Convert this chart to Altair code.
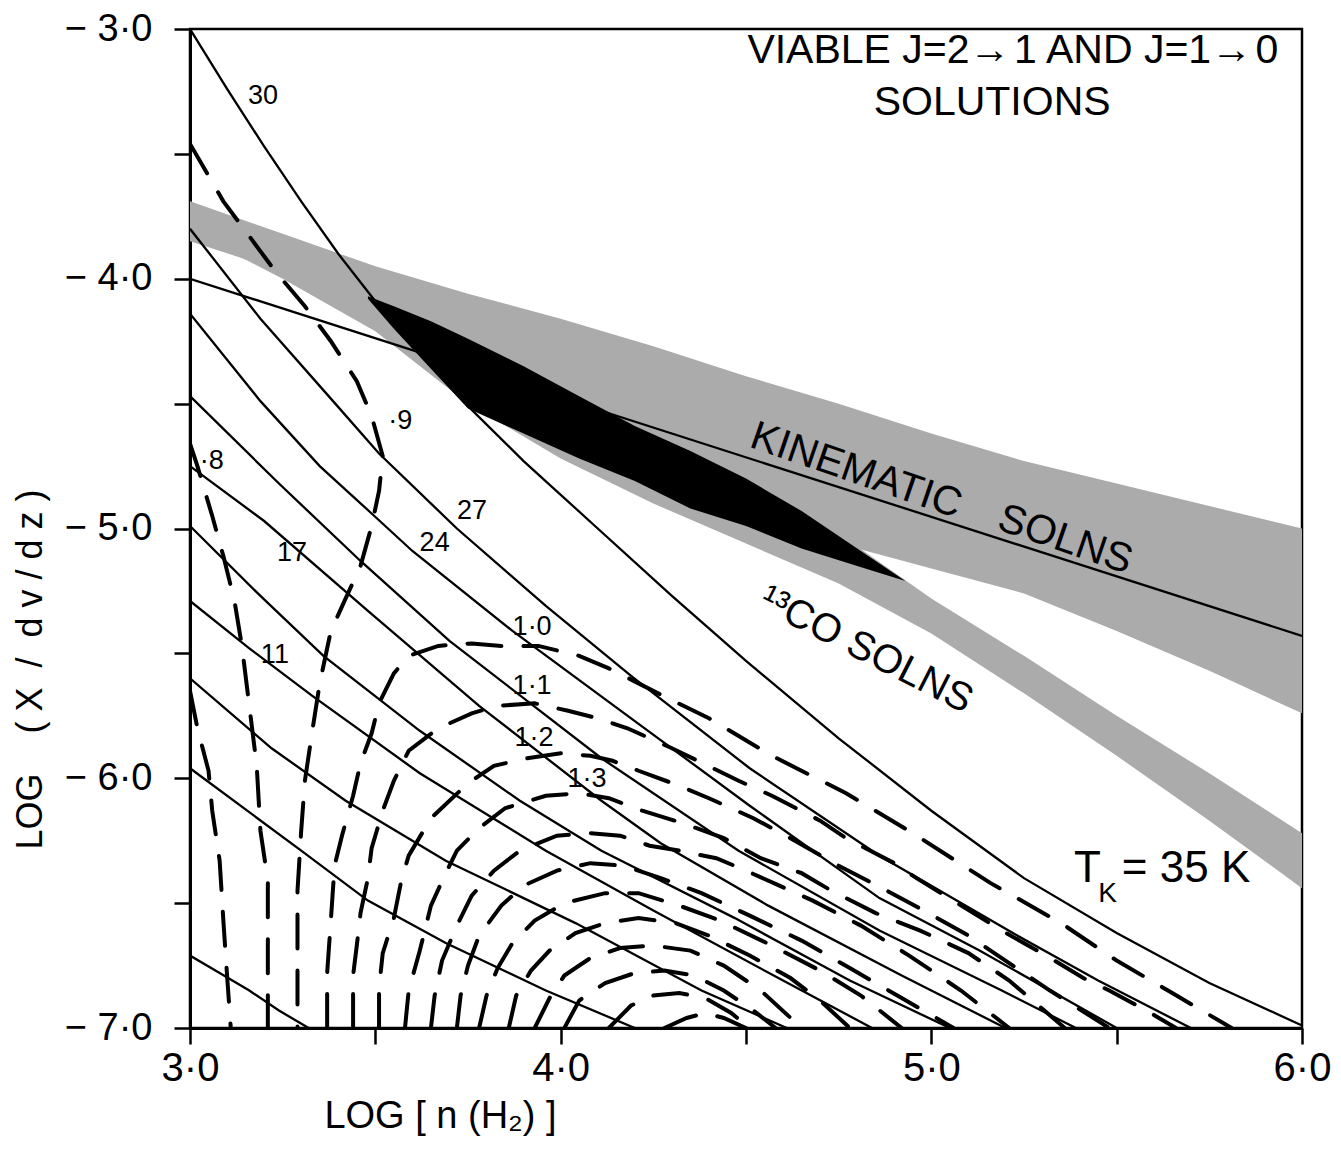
import altair as alt
import pandas as pd

# ---------------- axes ----------------
x_ticks = [3.0, 3.5, 4.0, 4.5, 5.0, 5.5, 6.0]
y_ticks = [-3.0, -3.5, -4.0, -4.5, -5.0, -5.5, -6.0, -6.5, -7.0]

# ---------------- solid contours (brightness temperature) ----------------
t30_x = [3.00, 3.10, 3.20, 3.30, 3.40, 3.50, 3.60, 3.75, 3.90, 4.10, 4.30, 4.50, 4.75, 5.00, 5.25, 5.50, 5.75, 6.00]
t30_y = [-3.00, -3.24, -3.47, -3.69, -3.90, -4.09, -4.27, -4.51, -4.73, -5.00, -5.27, -5.53, -5.84, -6.13, -6.40, -6.62, -6.82, -6.99]
t27_x = [3.00, 3.19, 3.38, 3.51, 3.72, 3.96, 4.19, 4.51, 4.86, 5.22, 5.45, 5.70]
t27_y = [-3.80, -4.16, -4.48, -4.70, -5.00, -5.31, -5.59, -5.96, -6.31, -6.62, -6.81, -7.00]
t24_x = [3.00, 3.19, 3.35, 3.49, 3.60, 3.87, 4.19, 4.51, 4.86, 5.13, 5.50]
t24_y = [-4.14, -4.49, -4.75, -4.94, -5.09, -5.41, -5.76, -6.11, -6.48, -6.69, -7.00]
t21_x = [3.00, 3.24, 3.46, 3.70, 4.11, 4.48, 4.86, 5.19, 5.39]
t21_y = [-4.47, -4.82, -5.13, -5.45, -5.92, -6.29, -6.61, -6.85, -7.00]
t17_x = [3.00, 3.20, 3.48, 3.78, 4.11, 4.27, 4.56, 4.92, 5.20]
t17_y = [-4.75, -4.97, -5.33, -5.71, -6.09, -6.26, -6.51, -6.79, -7.00]
t15_x = [3.00, 3.19, 3.36, 3.62, 3.89, 4.11, 4.47, 4.78, 5.05]
t15_y = [-4.99, -5.27, -5.51, -5.81, -6.09, -6.29, -6.56, -6.81, -7.00]
t13_x = [3.00, 3.16, 3.33, 3.62, 3.96, 4.25, 4.60, 4.84]
t13_y = [-5.29, -5.48, -5.67, -5.98, -6.29, -6.53, -6.81, -7.00]
t11_x = [3.00, 3.22, 3.42, 3.69, 4.04, 4.38, 4.61]
t11_y = [-5.60, -5.88, -6.09, -6.33, -6.58, -6.85, -7.00]
t9_x = [3.00, 3.30, 3.48, 3.69, 3.96, 4.20]
t9_y = [-5.96, -6.29, -6.49, -6.66, -6.85, -7.00]
t7_x = [3.00, 3.08, 3.16, 3.24, 3.32]
t7_y = [-6.71, -6.78, -6.85, -6.93, -7.00]

# ---------------- dashed contours (line ratio) ----------------
r07_x = [3.00, 3.02, 3.05, 3.06, 3.08, 3.09, 3.10, 3.11]
r07_y = [-5.65, -5.80, -5.97, -6.13, -6.33, -6.57, -6.79, -7.00]
r08_x = [3.00, 3.02, 3.06, 3.09, 3.12, 3.14, 3.16, 3.18, 3.19, 3.21, 3.21, 3.21]
r08_y = [-4.66, -4.75, -4.95, -5.11, -5.29, -5.47, -5.71, -5.95, -6.21, -6.41, -6.63, -7.00]
r09_x = [3.00, 3.09, 3.16, 3.23, 3.31, 3.38, 3.45, 3.49, 3.52, 3.51, 3.49, 3.46, 3.42, 3.38, 3.35, 3.33, 3.31, 3.30, 3.29, 3.29, 3.29]
r09_y = [-3.46, -3.69, -3.83, -3.97, -4.11, -4.25, -4.41, -4.55, -4.71, -4.85, -4.99, -5.15, -5.28, -5.41, -5.62, -5.81, -6.01, -6.21, -6.45, -6.69, -7.00]
r10_x = [3.37, 3.37, 3.38, 3.39, 3.41, 3.44, 3.46, 3.49, 3.51, 3.55, 3.59, 3.67, 3.76, 3.84, 3.94, 4.05, 4.13, 4.21, 4.29, 4.40, 4.57, 4.77, 4.95, 5.16, 5.35, 5.50, 5.65, 5.81]
r10_y = [-7.00, -6.78, -6.57, -6.35, -6.23, -6.07, -5.94, -5.82, -5.70, -5.58, -5.51, -5.47, -5.46, -5.47, -5.47, -5.51, -5.56, -5.62, -5.68, -5.76, -5.91, -6.06, -6.22, -6.42, -6.58, -6.73, -6.86, -7.00]
r11_x = [3.44, 3.44, 3.45, 3.46, 3.48, 3.49, 3.52, 3.55, 3.59, 3.67, 3.76, 3.83, 3.93, 4.02, 4.10, 4.18, 4.30, 4.37, 4.48, 4.57, 4.70, 4.77, 4.90, 4.96, 5.07, 5.19, 5.31, 5.41, 5.48, 5.58, 5.66]
r11_y = [-7.00, -6.79, -6.67, -6.54, -6.40, -6.28, -6.13, -6.01, -5.89, -5.80, -5.74, -5.71, -5.70, -5.73, -5.76, -5.80, -5.88, -5.93, -6.01, -6.07, -6.17, -6.24, -6.34, -6.40, -6.50, -6.61, -6.71, -6.80, -6.85, -6.93, -7.00]
r12_x = [3.51, 3.51, 3.52, 3.55, 3.57, 3.59, 3.65, 3.75, 3.82, 3.91, 4.00, 4.08, 4.14, 4.21, 4.32, 4.40, 4.52, 4.62, 4.75, 4.88, 4.98, 5.10, 5.20, 5.32, 5.48]
r12_y = [-7.00, -6.84, -6.70, -6.56, -6.41, -6.31, -6.16, -6.02, -5.95, -5.92, -5.90, -5.91, -5.93, -5.97, -6.03, -6.08, -6.16, -6.24, -6.35, -6.45, -6.53, -6.63, -6.73, -6.85, -7.00]
r13_x = [3.58, 3.59, 3.62, 3.65, 3.69, 3.72, 3.78, 3.85, 3.96, 4.05, 4.13, 4.22, 4.33, 4.44, 4.54, 4.65, 4.73, 4.85, 4.97, 5.10, 5.21, 5.36]
r13_y = [-7.00, -6.85, -6.69, -6.51, -6.38, -6.29, -6.20, -6.12, -6.07, -6.06, -6.08, -6.13, -6.18, -6.24, -6.32, -6.38, -6.45, -6.54, -6.61, -6.70, -6.81, -7.00]
r14_x = [3.65, 3.66, 3.68, 3.72, 3.76, 3.82, 3.89, 3.99, 4.08, 4.16, 4.24, 4.32, 4.42, 4.50, 4.59, 4.68, 4.81, 4.94, 5.08, 5.21]
r14_y = [-7.00, -6.87, -6.73, -6.59, -6.47, -6.37, -6.29, -6.23, -6.22, -6.23, -6.27, -6.29, -6.32, -6.37, -6.43, -6.49, -6.59, -6.71, -6.85, -7.00]
r15_x = [3.72, 3.73, 3.75, 3.78, 3.84, 3.90, 3.99, 4.08, 4.17, 4.27, 4.38, 4.51, 4.65, 4.78, 4.92, 5.06]
r15_y = [-7.00, -6.87, -6.75, -6.63, -6.51, -6.43, -6.37, -6.34, -6.35, -6.40, -6.46, -6.55, -6.65, -6.76, -6.88, -7.00]
r16_x = [3.78, 3.80, 3.83, 3.87, 3.93, 4.01, 4.12, 4.21, 4.32, 4.43, 4.57, 4.70, 4.81, 4.92]
r16_y = [-7.00, -6.87, -6.76, -6.66, -6.57, -6.50, -6.46, -6.46, -6.51, -6.57, -6.67, -6.77, -6.87, -7.00]
r17_x = [3.86, 3.88, 3.92, 3.97, 4.04, 4.12, 4.21, 4.31, 4.40, 4.51, 4.62, 4.70, 4.78]
r17_y = [-7.00, -6.87, -6.77, -6.69, -6.62, -6.58, -6.56, -6.58, -6.63, -6.71, -6.80, -6.89, -7.00]
r18_x = [3.93, 3.97, 4.01, 4.08, 4.16, 4.25, 4.35, 4.44, 4.54, 4.65]
r18_y = [-7.00, -6.88, -6.79, -6.72, -6.68, -6.67, -6.69, -6.75, -6.85, -7.00]
r19_x = [4.01, 4.05, 4.12, 4.20, 4.28, 4.36, 4.44, 4.52, 4.58]
r19_y = [-7.00, -6.89, -6.82, -6.78, -6.77, -6.79, -6.85, -6.93, -7.00]
r20_x = [4.13, 4.19, 4.25, 4.32, 4.39, 4.46, 4.51]
r20_y = [-7.00, -6.91, -6.87, -6.86, -6.88, -6.94, -7.00]
r21_x = [4.28, 4.34, 4.39, 4.44, 4.50]
r21_y = [-7.00, -6.96, -6.94, -6.96, -7.00]

# ---------------- kinematic solution line ----------------
kin_x = [3.0, 6.0]
kin_y = [-4.0, -5.43]

# ---------------- shaded bands ----------------
band_x = [3.00, 3.25, 3.50, 3.75, 4.00, 4.25, 4.50, 4.75, 5.00, 5.25, 5.50, 5.75, 6.00]
kin_top = [-3.69, -3.82, -3.95, -4.06, -4.16, -4.27, -4.39, -4.50, -4.62, -4.73, -4.82, -4.91, -5.00]
kin_bot = [-3.85, -3.97, -4.12, -4.45, -4.67, -4.84, -4.96, -5.06, -5.16, -5.26, -5.41, -5.57, -5.74]
co_top = [-3.69, -3.87, -4.07, -4.26, -4.45, -4.62, -4.78, -5.02, -5.28, -5.51, -5.75, -5.98, -6.22]
co_bot = [-3.81, -4.00, -4.21, -4.50, -4.72, -4.90, -5.06, -5.22, -5.42, -5.66, -5.91, -6.17, -6.44]

black_x = [3.48, 3.55, 3.65, 3.75, 3.90, 4.05, 4.20, 4.35, 4.50, 4.65, 4.80, 4.93]
black_top = [-4.07, -4.11, -4.17, -4.24, -4.35, -4.47, -4.59, -4.69, -4.80, -4.93, -5.08, -5.21]
black_bot = [-4.08, -4.20, -4.36, -4.52, -4.62, -4.72, -4.81, -4.92, -4.99, -5.08, -5.15, -5.21]

# ---------------- labels ----------------
lab_text = ["30", "·9", "·8", "27", "24", "17", "11", "1·0", "1·1", "1·2", "1·3"]
lab_x = [3.197, 3.567, 3.059, 3.761, 3.660, 3.275, 3.229, 3.923, 3.923, 3.928, 4.071]
lab_y = [-3.268, -4.570, -4.730, -4.930, -5.060, -5.100, -5.505, -5.395, -5.630, -5.840, -6.005]

title_text = ["VIABLE J=2\u2192\u200a1  AND J=1\u2192\u200a0", "SOLUTIONS"]
title_x = [5.220, 5.164]
title_y = [-3.088, -3.296]

kin_lab_text = ["KINEMATIC", "SOLNS"]
kin_lab_x = [4.797, 5.361]
kin_lab_y = [-4.770, -5.046]

co_lab_text = ["\u00b9\u00b3CO SOLNS"]
co_lab_x = [4.824]
co_lab_y = [-5.486]

tk_text = ["T", "K", "= 35 K"]
tk_x = [5.385, 5.450, 5.514]
tk_y = [-6.415, -6.495, -6.415]
tk_size = [44, 28, 44]

FONT = "Liberation Sans"


def series_df(named):
    rows = []
    for name, xs, ys in named:
        for i, (a, b) in enumerate(zip(xs, ys)):
            rows.append({"curve": name, "i": i, "x": a, "y": b})
    return pd.DataFrame(rows)


solid_df = series_df([
    ("30", t30_x, t30_y), ("27", t27_x, t27_y), ("24", t24_x, t24_y),
    ("21", t21_x, t21_y), ("17", t17_x, t17_y), ("15", t15_x, t15_y),
    ("13", t13_x, t13_y), ("11", t11_x, t11_y), ("9", t9_x, t9_y), ("7", t7_x, t7_y),
])
dash_df = series_df([
    ("0.7", r07_x, r07_y), ("0.8", r08_x, r08_y), ("0.9", r09_x, r09_y),
    ("1.0", r10_x, r10_y), ("1.1", r11_x, r11_y), ("1.2", r12_x, r12_y),
    ("1.3", r13_x, r13_y), ("1.4", r14_x, r14_y), ("1.5", r15_x, r15_y),
    ("1.6", r16_x, r16_y), ("1.7", r17_x, r17_y), ("1.8", r18_x, r18_y),
    ("1.9", r19_x, r19_y), ("2.0", r20_x, r20_y), ("2.1", r21_x, r21_y),
])
kin_df = pd.DataFrame({"x": kin_x, "y": kin_y})
kin_band_df = pd.DataFrame({"x": band_x, "y": kin_top, "y2": kin_bot})
co_band_df = pd.DataFrame({"x": band_x, "y": co_top, "y2": co_bot})
black_df = pd.DataFrame({"x": black_x, "y": black_top, "y2": black_bot})
lab_df = pd.DataFrame({"t": lab_text, "x": lab_x, "y": lab_y})
title_df = pd.DataFrame({"t": title_text, "x": title_x, "y": title_y})
kin_lab_df = pd.DataFrame({"t": kin_lab_text, "x": kin_lab_x, "y": kin_lab_y})
co_lab_df = pd.DataFrame({"t": co_lab_text, "x": co_lab_x, "y": co_lab_y})
tk_df = pd.DataFrame({"t": tk_text, "x": tk_x, "y": tk_y, "s": tk_size})

x_scale = alt.Scale(domain=[3, 6], nice=False, zero=False)
y_scale = alt.Scale(domain=[-7, -3], nice=False, zero=False)

x_axis = alt.Axis(
    values=x_ticks,
    labelExpr="datum.value % 1 == 0 ? replace(format(datum.value, '.1f'), '.', '·') : ''",
    title="LOG\u00a0[\u00a0n\u00a0(H\u2082)\u00a0]",
    titleFont=FONT, titleFontSize=38, titleFontWeight="normal", titleColor="black",
    titleX=250, titleY=88, titleAlign="center", titleBaseline="middle",
    labelFont=FONT, labelFontSize=40, labelColor="black", labelPadding=4,
    labelFlush=False, labelOverlap=False,
    tickSize=16, tickWidth=2.5, tickColor="black",
    domainColor="black", domainWidth=3, grid=False,
)
y_axis = alt.Axis(
    values=y_ticks,
    labelExpr="datum.value % 1 == 0 ? '\u2212 ' + replace(format(abs(datum.value), '.1f'), '.', '·') : ''",
    title="LOG\u00a0\u00a0\u00a0\u00a0(\u00a0X\u00a0\u00a0/\u00a0\u00a0d\u00a0v\u00a0/\u00a0d\u00a0z\u00a0)",
    titleFont=FONT, titleFontSize=36, titleFontWeight="normal", titleColor="black",
    titleX=-160, titleY=640, titleAngle=-90, titleAlign="center", titleBaseline="middle",
    labelFont=FONT, labelFontSize=38, labelColor="black", labelPadding=22,
    labelFlush=False, labelOverlap=False,
    tickSize=16, tickWidth=2.5, tickColor="black",
    domainColor="black", domainWidth=3, grid=False,
)

X = alt.X("x:Q", scale=x_scale, axis=x_axis)
Y = alt.Y("y:Q", scale=y_scale, axis=y_axis)

GREY = "#ababab"

co_band = alt.Chart(co_band_df).mark_area(color=GREY, clip=True).encode(x=X, y=Y, y2="y2:Q")
kin_band = alt.Chart(kin_band_df).mark_area(color=GREY, clip=True).encode(x=X, y=Y, y2="y2:Q")
black = alt.Chart(black_df).mark_area(color="black", clip=True).encode(x=X, y=Y, y2="y2:Q")

solid = alt.Chart(solid_df).mark_line(color="black", strokeWidth=2.3, clip=True).encode(
    x=X, y=Y, detail="curve:N", order="i:Q")
kin_line = alt.Chart(kin_df).mark_line(color="black", strokeWidth=2.3, clip=True).encode(x=X, y=Y)
dashed = alt.Chart(dash_df).mark_line(
    color="black", strokeWidth=4, strokeDash=[34, 22], strokeCap="round", clip=True
).encode(x=X, y=Y, detail="curve:N", order="i:Q")

labels = alt.Chart(lab_df).mark_text(
    font=FONT, fontSize=27, color="black", align="center", baseline="middle"
).encode(x=X, y=Y, text="t:N")
titles = alt.Chart(title_df).mark_text(
    font=FONT, fontSize=41, color="black", align="center", baseline="middle"
).encode(x=X, y=Y, text="t:N")
kin_labels = alt.Chart(kin_lab_df).mark_text(
    font=FONT, fontSize=41, color="black", align="center", baseline="middle", angle=19
).encode(x=X, y=Y, text="t:N")
co_labels = alt.Chart(co_lab_df).mark_text(
    font=FONT, fontSize=40, color="black", align="center", baseline="middle", angle=27
).encode(x=X, y=Y, text="t:N")
tk_labels = alt.Chart(tk_df).mark_text(
    font=FONT, color="black", align="left", baseline="alphabetic"
).encode(x=X, y=Y, text="t:N", size=alt.Size("s:Q", scale=None, legend=None))

chart = alt.layer(
    co_band, kin_band, black, solid, kin_line, dashed,
    labels, titles, kin_labels, co_labels, tk_labels,
).properties(
    width=1112, height=999,
    autosize=alt.AutoSizeParams(type="none"),
    padding={"left": 182, "top": 21, "right": 31, "bottom": 114},
    background="white",
).configure_view(stroke="black", strokeWidth=2.5)

chart.save("out.html", embed_options={"renderer": "svg", "actions": False})
